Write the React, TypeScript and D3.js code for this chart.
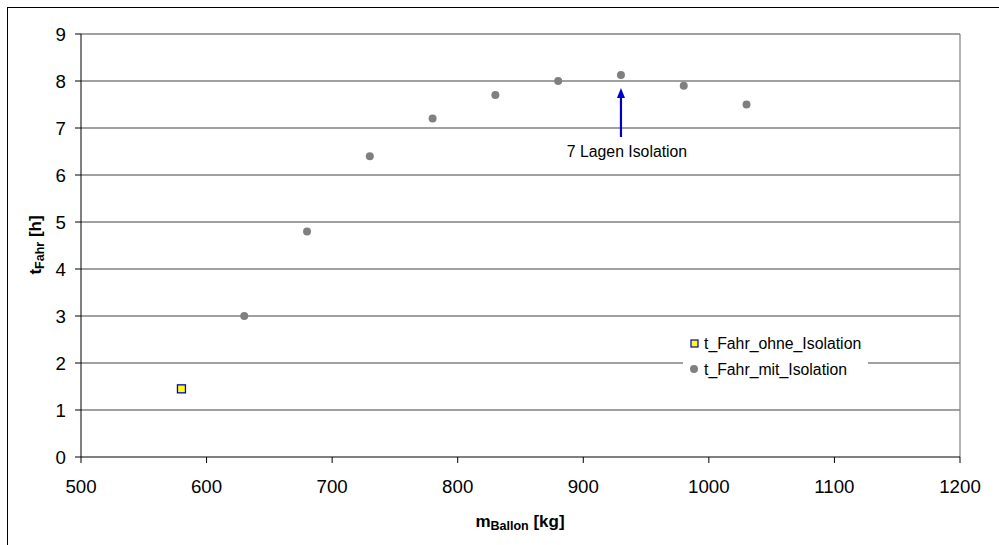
import React from "react";
import * as d3 from "d3";

// Ballonmasse [kg] und Fahrzeit [h]
const massOhne = [580];
const timeOhne = [1.45];
const massMit = [630, 680, 730, 780, 830, 880, 930, 980, 1030];
const timeMit = [3.0, 4.8, 6.4, 7.2, 7.7, 8.0, 8.13, 7.9, 7.5];
const xTicks = [500, 600, 700, 800, 900, 1000, 1100, 1200];
const yTicks = [0, 1, 2, 3, 4, 5, 6, 7, 8, 9];
const seriesNames = ["t_Fahr_ohne_Isolation", "t_Fahr_mit_Isolation"];
const annotation = { mass: 930, text: "7 Lagen Isolation" };

const W = 999;
const H = 545;
const left = 81;
const right = 960;
const top = 34;
const bottom = 457;
const font = "Arial, 'Liberation Sans', sans-serif";

export default function App() {
  const x = d3.scaleLinear().domain([500, 1200]).range([left, right]);
  const y = d3.scaleLinear().domain([0, 9]).range([bottom, top]);
  const ax = x(annotation.mass);

  return (
    <svg
      width={W}
      height={H}
      style={{ position: "absolute", left: 0, top: 0, background: "#fff" }}
      fontFamily={font}
    >
      {/* outer frame */}
      <line x1={7.5} y1={7} x2={7.5} y2={H} stroke="#000" strokeWidth={1} />
      <line x1={7} y1={7.5} x2={W} y2={7.5} stroke="#000" strokeWidth={1} />

      {/* grid */}
      {yTicks.filter((t) => t > 0).map((t) => (
        <line key={t} x1={left} x2={right} y1={y(t)} y2={y(t)} stroke="#808080" strokeWidth={1.4} />
      ))}
      <line x1={right} x2={right} y1={top} y2={bottom} stroke="#808080" strokeWidth={1.2} />

      {/* axes */}
      <line x1={left} x2={left} y1={top} y2={bottom} stroke="#000" strokeWidth={1} />
      <line x1={left} x2={right} y1={bottom} y2={bottom} stroke="#000" strokeWidth={1} />
      {yTicks.map((t) => (
        <g key={t}>
          <line x1={left - 6} x2={left} y1={y(t)} y2={y(t)} stroke="#000" strokeWidth={1} />
          <text x={66} y={y(t) + 6.5} textAnchor="end" fontSize={18.7} fill="#000">
            {t}
          </text>
        </g>
      ))}
      {xTicks.map((t) => (
        <g key={t}>
          <line x1={x(t)} x2={x(t)} y1={bottom} y2={bottom + 6} stroke="#000" strokeWidth={1} />
          <text x={x(t)} y={492.5} textAnchor="middle" fontSize={18.7} fill="#000">
            {t}
          </text>
        </g>
      ))}

      {/* axis titles */}
      <text x={520} y={527} textAnchor="middle" fontWeight="bold" fontSize={17} fill="#000">
        m<tspan fontSize={12.5} dy={3}>Ballon</tspan>
        <tspan dy={-3}> [kg]</tspan>
      </text>
      <text
        transform={`translate(41,245) rotate(-90)`}
        textAnchor="middle"
        fontWeight="bold"
        fontSize={17}
        fill="#000"
      >
        t<tspan fontSize={12.5} dy={3}>Fahr</tspan>
        <tspan dy={-3}> [h]</tspan>
      </text>

      {/* legend */}
      <rect x={683} y={330} width={185} height={52} fill="#fff" />
      <rect x={691} y={340} width={7} height={7} fill="#ffff00" stroke="#0000cc" strokeWidth={1.2} />
      <text x={704} y={349} fontSize={15.8} fill="#000">{seriesNames[0]}</text>
      <circle cx={694} cy={369} r={4} fill="#808080" />
      <text x={704} y={375} fontSize={15.8} fill="#000">{seriesNames[1]}</text>

      {/* series */}
      {massMit.map((m, i) => (
        <circle key={m} cx={x(m)} cy={y(timeMit[i])} r={4} fill="#808080" />
      ))}
      {massOhne.map((m, i) => (
        <rect
          key={m}
          x={x(m) - 4}
          y={y(timeOhne[i]) - 4}
          width={8}
          height={8}
          fill="#ffff00"
          stroke="#0000cc"
          strokeWidth={1.3}
        />
      ))}

      {/* annotation arrow */}
      <line x1={ax} x2={ax} y1={137} y2={96} stroke="#0000cc" strokeWidth={2.2} />
      <path d={`M${ax},88 L${ax - 4},98 L${ax + 4},98 Z`} fill="#0000cc" />
      <text x={627} y={157} textAnchor="middle" fontSize={15.8} fill="#000">
        {annotation.text}
      </text>
    </svg>
  );
}
